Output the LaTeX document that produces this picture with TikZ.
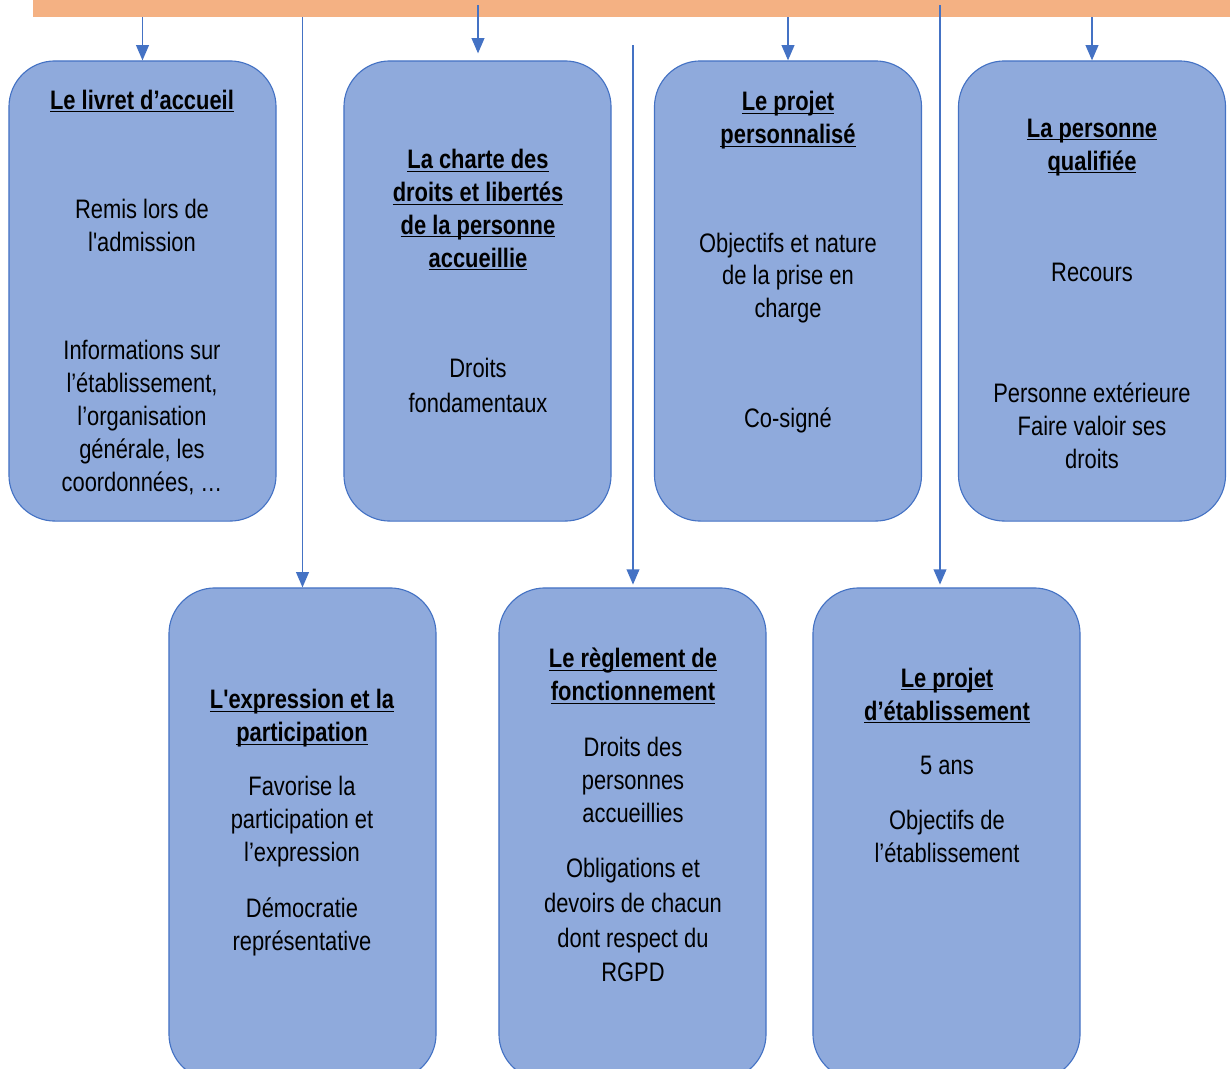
\documentclass[tikz,border=0pt]{standalone}
\usepackage{fontspec}
\setmainfont[FakeStretch=0.82, Ligatures=TeXOff]{Liberation Sans}
\usetikzlibrary{arrows.meta, positioning}
\definecolor{boxfill}{HTML}{8FAADC}
\definecolor{boxline}{HTML}{4472C4}
\definecolor{barfill}{HTML}{F4B183}
\newcommand{\ttl}[1]{\textbf{\underline{\smash{#1}}\vphantom{#1}}}

\begin{document}
\begin{tikzpicture}[x=0.025cm, y=-0.025cm, >={Triangle[width=0.32cm, length=0.38cm]},
  box/.style={rectangle, rounded corners=1.15cm, draw=boxline, fill=boxfill, line width=0.8pt, minimum width=6.675cm, minimum height=#1, inner sep=0pt},
  box/.default=11.5cm,
  txt/.style={align=center, font=\fontsize{19}{23.4}\selectfont, inner sep=0pt},
  wide/.style={font=\fontsize{19}{24.8}\selectfont},
  link/.style={->, draw=boxline, fill=boxline, line width=0.9pt}]
  \clip (0,0) rectangle (1230,1068);
  % top bar
  \node[rectangle, fill=barfill, minimum width=30.25cm, minimum height=0.925cm, inner sep=0pt, anchor=south west] (bar) at (33,17) {};
  % first row
  \node[box] (livret) at (142.5,291) {};
  \node[box] (charte) at (477.5,291) {};
  \node[box] (projet) at (788,291) {};
  \node[box] (qualif) at (1092,291) {};
  % second row
  \node[box=12.3cm] (expr) at (302.5,834) {};
  \node[box=12.3cm] (regl) at (632.5,834) {};
  \node[box=12.3cm] (etab) at (946.5,834) {};
  % texts
  \node[txt] (livret-t) at (142,101) {\ttl{Le livret d’accueil}};
  \node[txt] (livret-a) at (142,225.5) {Remis lors de\\l'admission};
  \node[txt] (livret-b) at (142,417.5) {Informations sur\\l’établissement,\\l’organisation\\générale, les\\coordonnées, …};
  \node[txt] (charte-t) at (478,210) {\ttl{La charte des}\\\ttl{droits et libertés}\\\ttl{de la personne}\\\ttl{accueillie}};
  \node[txt, wide] (charte-a) at (478,385.5) {Droits\\fondamentaux};
  \node[txt] (projet-t) at (788,120.5) {\ttl{Le projet}\\\ttl{personnalisé}};
  \node[txt] (projet-a) at (788,278) {Objectifs et nature\\de la prise en\\charge};
  \node[txt] (projet-b) at (788,420) {Co-signé};
  \node[txt] (qualif-t) at (1092,147.5) {\ttl{La personne}\\\ttl{qualifiée}};
  \node[txt] (qualif-a) at (1092,272) {Recours};
  \node[txt] (qualif-b) at (1092,425.5) {Personne extérieure\\Faire valoir ses\\droits};
  \node[txt] (expr-t) at (302,718.5) {\ttl{L'expression et la}\\\ttl{participation}};
  \node[txt] (expr-a) at (302,821.5) {Favorise la\\participation et\\l’expression};
  \node[txt] (expr-b) at (302,926.5) {Démocratie\\représentative};
  \node[txt] (regl-t) at (633,676) {\ttl{Le règlement de}\\\ttl{fonctionnement}};
  \node[txt] (regl-a) at (633,780) {Droits des\\personnes\\accueillies};
  \node[txt, wide] (regl-b) at (633,920) {Obligations et\\devoirs de chacun\\dont respect du\\RGPD};
  \node[txt] (etab-t) at (947,695.5) {\ttl{Le projet}\\\ttl{d’établissement}};
  \node[txt] (etab-a) at (947,765) {5 ans};
  \node[txt] (etab-b) at (947,836) {Objectifs de\\l’établissement};
  % connectors
  \coordinate (c-charte) at (478,5);
  \coordinate (c-regl) at (633,45);
  \coordinate (c-etab) at (940,5);
  \draw[link] (bar.south -| livret.north) -- (livret.north);
  \draw[link, shorten >=5pt] (c-charte) -- (c-charte |- charte.north);
  \draw[link] (bar.south -| projet.north) -- (projet.north);
  \draw[link] (bar.south -| qualif.north) -- (qualif.north);
  \draw[link] (bar.south -| expr.north) -- (expr.north);
  \draw[link, shorten >=2pt] (c-regl) -- (c-regl |- regl.north);
  \draw[link, shorten >=2pt] (c-etab) -- (c-etab |- etab.north);
\end{tikzpicture}
\end{document}
